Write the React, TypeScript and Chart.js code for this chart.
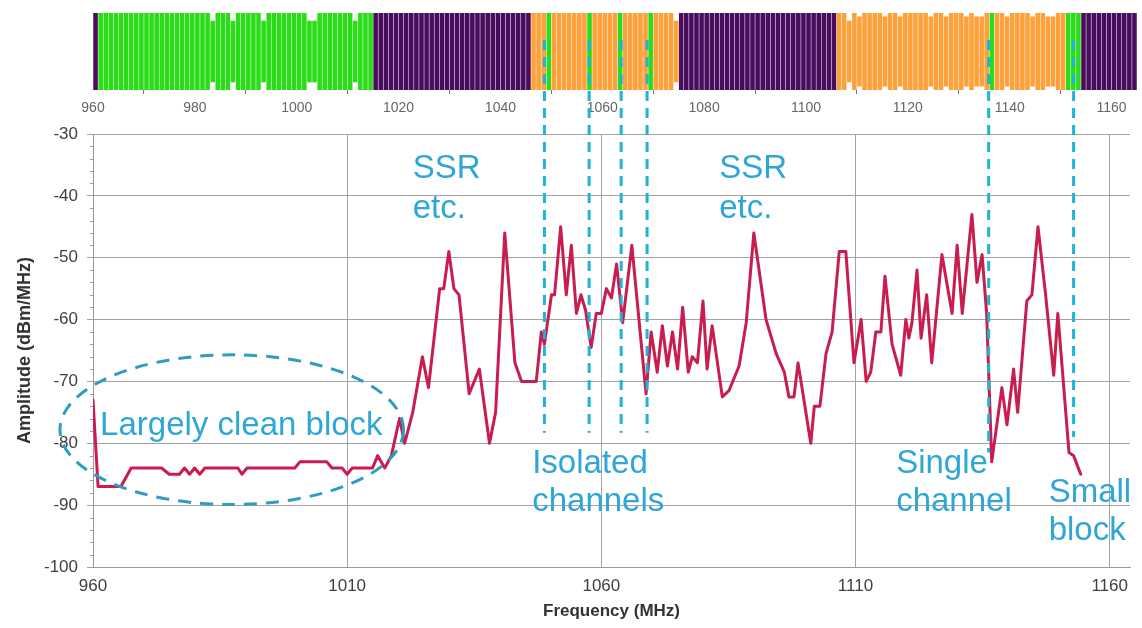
import React, { useEffect, useRef } from "react";
import { Chart, registerables } from "chart.js";

Chart.register(...registerables);

const FONT = "'Liberation Sans', Arial, sans-serif";

// ---- main spectrum (frequency MHz, amplitude dBm/MHz) ----
const FREQ = [
  960, 961, 965.5, 967.5, 973.5, 975, 977, 978, 979, 980,
  981, 982, 988.5, 989.3, 990.3, 999.7, 1000.7, 1006, 1007, 1009,
  1010, 1011, 1015, 1016, 1017.4, 1018.7, 1020.3, 1021.3, 1022.9, 1024.8,
  1026, 1028.2, 1029, 1030, 1031, 1032, 1034, 1036, 1038, 1039.2,
  1041, 1043, 1044.3, 1047.2, 1048.2, 1048.8, 1050.2, 1050.8, 1052, 1053.1,
  1054.1, 1055.1, 1056, 1056.9, 1058, 1059, 1060, 1061, 1062, 1063,
  1064.2, 1066, 1068.8, 1069.8, 1071, 1072, 1073, 1074, 1075, 1076,
  1077.1, 1077.9, 1078.9, 1080, 1080.8, 1081.8, 1083.8, 1085.1, 1087.1, 1088.5,
  1090, 1092.4, 1094.4, 1096, 1096.9, 1097.9, 1098.7, 1101.2, 1101.9, 1103,
  1104.2, 1105.4, 1106.8, 1108.1, 1109.7, 1111.1, 1112.1, 1113, 1114, 1115,
  1115.8, 1117.2, 1118.9, 1119.9, 1120.5, 1121.1, 1122.1, 1122.9, 1124, 1125,
  1127, 1129, 1130, 1131, 1132.9, 1133.9, 1134.9, 1135.8, 1136.8, 1138.8,
  1139.8, 1141.1, 1141.9, 1143.7, 1144.7, 1145.9, 1147.4, 1149, 1149.8, 1152,
  1152.9, 1154.3,
];
const AMP = [
  -73, -87, -87, -84, -84, -85, -85, -84, -85, -84,
  -85, -84, -84, -85, -84, -84, -83, -83, -84, -84,
  -85, -84, -84, -82, -84, -82, -76, -80, -75, -66,
  -71, -55, -55, -49, -55, -56, -72, -68, -80, -75,
  -46, -67, -70, -70, -62, -64, -56, -56, -45, -56,
  -48, -59, -56, -58.5, -64.5, -59, -59, -55, -56.5, -51,
  -60.5, -48, -72, -62, -68.5, -61, -67.5, -62, -68, -58,
  -68.5, -66, -67, -57, -68, -61, -72.5, -71.5, -67.5, -60.5,
  -46, -60, -65.5, -68.5, -72.5, -72.5, -67, -80, -74, -74,
  -65.5, -62, -49, -49, -67, -60, -70, -68.5, -62, -62,
  -53, -64, -69, -60, -63, -60.5, -52, -63, -56, -67,
  -49.5, -59, -48, -59, -43, -54, -49.5, -59, -83, -71,
  -77, -68, -75, -57, -56, -45, -56, -69, -59, -81.5,
  -82, -85,
];

const X_MIN = 960;
const X_MAX = 1164;
const Y_MIN = -100;
const Y_MAX = -30;
const X_TICKS = [960, 1010, 1060, 1110, 1160];
const Y_MINOR_STEP = 2;

// ---- occupancy strip ----
const STRIP_MAX = 1165;
const STRIP_TICKS = [960, 980, 1000, 1020, 1040, 1060, 1080, 1100, 1120, 1140, 1160];
const RUN_START = [960, 961, 1015, 1046, 1049, 1050, 1057, 1058, 1063, 1064, 1069, 1070, 1075, 1106, 1136, 1137, 1151, 1154];
const RUN_END = [961, 1015, 1046, 1049, 1050, 1057, 1058, 1063, 1064, 1069, 1070, 1075, 1106, 1136, 1137, 1151, 1154, 1165];
const RUN_STATE = ["busy", "clean", "busy", "partial", "clean", "partial", "clean", "partial", "clean", "partial", "clean", "partial", "busy", "partial", "clean", "partial", "clean", "busy"];
const DEEP_NOTCH = [983, 987, 993, 1002, 1003, 1011, 1074, 1108];
const SHALLOW_NOTCH = [1110, 1115, 1118, 1124, 1127, 1131, 1133, 1134, 1139, 1144, 1147, 1148];
const STATE_COLOR: Record<string, string> = { clean: "#2bdc18", partial: "#fea13b", busy: "#4a0c5c" };

// ---- annotations ----
const GUIDE_FREQ = [1048.8, 1057.6, 1063.9, 1069.0, 1136.2, 1152.9];
const GUIDE_END = [-78.3, -78.3, -78.3, -78.3, -81.5, -79];
const GUIDE_TOP = -14.8;
const ELLIPSE_CENTER = [987.3, -77.8];
const ELLIPSE_RADIUS = [33.8, 12.1];
const NOTE_TEXT = ["SSR", "etc.", "SSR", "etc.", "Largely clean block", "Isolated", "channels", "Single", "channel", "Small", "block"];
const NOTE_FREQ = [1022.9, 1022.9, 1083.2, 1083.2, 961.4, 1046.4, 1046.4, 1118.0, 1118.0, 1148.0, 1148.0];
const NOTE_AMP = [-37.1, -43.6, -37.1, -43.6, -78.6, -84.8, -91.0, -84.8, -91.0, -89.5, -95.6];

const W = 1142;
const H = 628;
const STRIP_H = 125;

function buildStrip() {
  const pts: { x: number; y: [number, number] }[] = [];
  const colors: string[] = [];
  for (let r = 0; r < RUN_START.length; r++) {
    for (let b = RUN_START[r]; b < RUN_END[r]; b++) {
      let lo = 0;
      let hi = 1;
      if (DEEP_NOTCH.includes(b)) { lo = 0.1; hi = 0.9; }
      else if (SHALLOW_NOTCH.includes(b)) { lo = 0.045; hi = 0.955; }
      pts.push({ x: b + 0.5, y: [lo, hi] });
      colors.push(STATE_COLOR[RUN_STATE[r]]);
    }
  }
  return { pts, colors };
}

const notesPlugin = {
  id: "notes",
  afterDraw(chart: any) {
    const { ctx } = chart;
    const x = chart.scales.x;
    const y = chart.scales.y;
    ctx.save();
    // minor ticks on the amplitude axis
    ctx.strokeStyle = "#9a9a9a";
    ctx.lineWidth = 1;
    for (let v = Y_MIN; v <= Y_MAX; v += Y_MINOR_STEP) {
      if (v % 10 === 0) continue;
      const py = Math.round(y.getPixelForValue(v)) + 0.5;
      ctx.beginPath();
      ctx.moveTo(x.left - 3, py);
      ctx.lineTo(x.left, py);
      ctx.stroke();
    }
    // ellipse
    const cx = x.getPixelForValue(ELLIPSE_CENTER[0]);
    const cy = y.getPixelForValue(ELLIPSE_CENTER[1]);
    const rx = x.getPixelForValue(ELLIPSE_CENTER[0] + ELLIPSE_RADIUS[0]) - cx;
    const ry = cy - y.getPixelForValue(ELLIPSE_CENTER[1] + ELLIPSE_RADIUS[1]);
    ctx.beginPath();
    ctx.ellipse(cx, cy, rx, ry, 0, 0, Math.PI * 2);
    ctx.setLineDash([13, 9]);
    ctx.lineWidth = 3;
    ctx.strokeStyle = "#2f9cc2";
    ctx.stroke();
    // guide lines
    ctx.setLineDash([10, 7]);
    ctx.strokeStyle = "#1fb3d8";
    ctx.lineWidth = 3;
    for (let i = 0; i < GUIDE_FREQ.length; i++) {
      const px = x.getPixelForValue(GUIDE_FREQ[i]);
      ctx.beginPath();
      ctx.moveTo(px, y.getPixelForValue(GUIDE_TOP));
      ctx.lineTo(px, y.getPixelForValue(GUIDE_END[i]));
      ctx.stroke();
    }
    ctx.setLineDash([]);
    // text notes
    ctx.fillStyle = "#2ea6d6";
    ctx.font = `33px ${FONT}`;
    ctx.textAlign = "left";
    ctx.textBaseline = "alphabetic";
    for (let i = 0; i < NOTE_TEXT.length; i++) {
      ctx.fillText(NOTE_TEXT[i], x.getPixelForValue(NOTE_FREQ[i]), y.getPixelForValue(NOTE_AMP[i]));
    }
    ctx.restore();
  },
};

export default function App() {
  const mainRef = useRef<HTMLCanvasElement>(null);
  const stripRef = useRef<HTMLCanvasElement>(null);

  useEffect(() => {
    const strip = buildStrip();
    const stripChart = new Chart(stripRef.current!, {
      type: "bar",
      data: {
        datasets: [
          {
            data: strip.pts as any,
            backgroundColor: strip.colors,
            borderWidth: 0,
            barPercentage: 0.9,
            categoryPercentage: 1,
          },
        ],
      },
      options: {
        responsive: false,
        animation: false,
        layout: { padding: { top: 13, left: 93, right: 5, bottom: 0 } },
        plugins: { legend: { display: false }, tooltip: { enabled: false } },
        scales: {
          x: {
            type: "linear",
            min: X_MIN,
            max: STRIP_MAX,
            offset: false,
            afterBuildTicks: (s: any) => { s.ticks = STRIP_TICKS.map((v) => ({ value: v })); },
            afterFit: (s: any) => { s.height = 35; },
            ticks: {
              autoSkip: false,
              maxRotation: 0,
              padding: 6,
              color: "#666",
              font: { family: FONT, size: 14 },
              callback: (v: any) => String(v),
            },
            grid: { display: true, drawOnChartArea: false, drawTicks: true, tickLength: 4, color: "#777" },
            border: { display: false },
          },
          y: { min: 0, max: 1, display: false },
        },
      },
    });

    const mainChart = new Chart(mainRef.current!, {
      type: "line",
      data: {
        datasets: [
          {
            data: FREQ.map((f, i) => ({ x: f, y: AMP[i] })),
            borderColor: "#c81d4e",
            borderWidth: 3,
            borderJoinStyle: "round",
            borderCapStyle: "round",
            pointRadius: 0,
            tension: 0,
            fill: false,
          },
        ],
      },
      options: {
        responsive: false,
        animation: false,
        layout: { padding: { top: 134, right: 12, left: 0, bottom: 6 } },
        plugins: { legend: { display: false }, tooltip: { enabled: false } },
        scales: {
          x: {
            type: "linear",
            min: X_MIN,
            max: X_MAX,
            afterBuildTicks: (s: any) => { s.ticks = X_TICKS.map((v) => ({ value: v })); },
            afterFit: (s: any) => { s.height = 55; },
            ticks: {
              autoSkip: false,
              maxRotation: 0,
              padding: 9,
              color: "#404040",
              font: { family: FONT, size: 17 },
              callback: (v: any) => String(v),
            },
            grid: { color: "#a3a3a3", lineWidth: 1, drawTicks: false },
            border: { color: "#9a9a9a" },
            title: {
              display: true,
              text: "Frequency (MHz)",
              color: "#333",
              font: { family: FONT, size: 17, weight: "bold" },
              padding: { top: 0, bottom: 0 },
            },
          },
          y: {
            min: Y_MIN,
            max: Y_MAX,
            afterFit: (s: any) => { s.width = 93; },
            ticks: {
              stepSize: 10,
              padding: 9,
              color: "#404040",
              font: { family: FONT, size: 17 },
            },
            grid: { color: "#a3a3a3", lineWidth: 1, tickLength: 6 },
            border: { color: "#9a9a9a" },
            title: {
              display: true,
              text: "Amplitude (dBm/MHz)",
              color: "#333",
              font: { family: FONT, size: 18, weight: "bold" },
              padding: { top: 14, bottom: 0 },
            },
          },
        },
      },
      plugins: [notesPlugin],
    });

    return () => {
      mainChart.destroy();
      stripChart.destroy();
    };
  }, []);

  return (
    <div style={{ position: "absolute", left: 0, top: 0, width: W, height: H, background: "#fff" }}>
      <canvas ref={stripRef} width={W} height={STRIP_H} style={{ position: "absolute", left: 0, top: 0, zIndex: 1 }} />
      <canvas ref={mainRef} width={W} height={H} style={{ position: "absolute", left: 0, top: 0, zIndex: 2 }} />
    </div>
  );
}
